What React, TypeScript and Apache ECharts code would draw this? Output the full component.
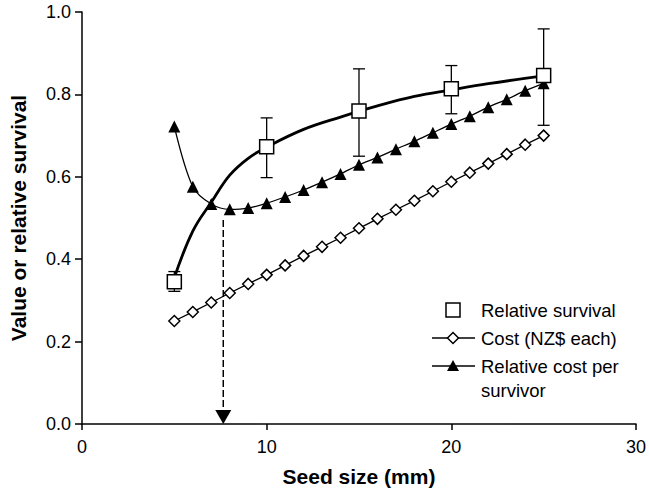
import React, { useEffect, useRef } from "react";
import * as echarts from "echarts";

// Seed sizes (mm) for cost series
const seedSizes = [5, 6, 7, 8, 9, 10, 11, 12, 13, 14, 15, 16, 17, 18, 19, 20, 21, 22, 23, 24, 25];
// Relative survival observations
const survivalX = [5, 10, 15, 20, 25];
const survivalY = [0.345, 0.673, 0.76, 0.814, 0.846];
const survivalLow = [0.322, 0.598, 0.65, 0.753, 0.725];
const survivalHigh = [0.37, 0.743, 0.862, 0.87, 0.959];
// Fitted survival curve
const fitX = [5, 6, 7, 8, 9, 10, 12, 14, 16, 18, 20, 22, 25];
const fitY = [0.355, 0.468, 0.538, 0.604, 0.645, 0.672, 0.715, 0.745, 0.772, 0.795, 0.811, 0.826, 0.845];
// Cost (NZ$ each)
const costY = [0.25, 0.272, 0.295, 0.318, 0.34, 0.362, 0.385, 0.408, 0.43, 0.452, 0.475, 0.498, 0.52, 0.542, 0.565, 0.588, 0.61, 0.632, 0.655, 0.678, 0.7];
// Relative cost per survivor
const costPerSurvivorY = [0.722, 0.576, 0.534, 0.521, 0.524, 0.536, 0.551, 0.568, 0.587, 0.607, 0.629, 0.647, 0.667, 0.686, 0.707, 0.728, 0.747, 0.769, 0.788, 0.809, 0.827];
// Optimum seed size marker
const optimumX = 7.65;
const optimumTop = 0.495;
const optimumBottom = 0.03;

const xTicks = [0, 10, 20, 30];
const yTicks = [0, 0.2, 0.4, 0.6, 0.8, 1.0];

const legendNames = ["Relative survival", "Cost (NZ$ each)", "Relative cost per", "survivor"];

const FONT = "'Liberation Sans', Arial, Helvetica, sans-serif";

export default function App() {
  const ref = useRef<HTMLDivElement>(null);
  useEffect(() => {
    if (!ref.current) return;
    const chart = echarts.init(ref.current, undefined, { renderer: "svg" });
    const black = "#000";
    const option: any = {
      animation: false,
      backgroundColor: "#fff",
      textStyle: { fontFamily: FONT },
      grid: { left: 80, right: 9, top: 12, bottom: 68 },
      xAxis: {
        type: "value",
        min: xTicks[0],
        max: xTicks[xTicks.length - 1],
        interval: 10,
        name: "Seed size (mm)",
        nameLocation: "middle",
        nameGap: 42,
        nameTextStyle: { fontFamily: FONT, fontSize: 21, fontWeight: "bold", color: black },
        axisLine: { lineStyle: { color: black, width: 1.5 } },
        axisTick: { show: true, length: 6, lineStyle: { color: black, width: 1.5 } },
        axisLabel: { fontFamily: FONT, fontSize: 18, color: black, margin: 14 },
        splitLine: { show: false },
      },
      yAxis: {
        type: "value",
        min: yTicks[0],
        max: yTicks[yTicks.length - 1],
        interval: 0.2,
        name: "Value or relative survival",
        nameLocation: "middle",
        nameGap: 53,
        nameTextStyle: { fontFamily: FONT, fontSize: 21, fontWeight: "bold", color: black },
        axisLine: { show: true, lineStyle: { color: black, width: 1.5 } },
        axisTick: { show: true, length: 7, lineStyle: { color: black, width: 1.5 } },
        axisLabel: { fontFamily: FONT, fontSize: 18, color: black, margin: 11, formatter: (v: number) => v.toFixed(1) },
        splitLine: { show: false },
      },
      series: [
        {
          type: "line",
          name: "fit",
          data: fitX.map((x, i) => [x, fitY[i]]),
          smooth: 0.4,
          showSymbol: false,
          symbol: "none",
          lineStyle: { color: black, width: 2.8 },
          z: 3,
        },
        {
          type: "line",
          name: "Cost (NZ$ each)",
          data: seedSizes.map((x, i) => [x, costY[i]]),
          symbol: "diamond",
          symbolSize: 11,
          itemStyle: { color: "#fff", borderColor: black, borderWidth: 1.5, opacity: 1 },
          lineStyle: { color: black, width: 1.3 },
          z: 2,
        },
        {
          type: "line",
          name: "Relative cost per survivor",
          data: seedSizes.map((x, i) => [x, costPerSurvivorY[i]]),
          smooth: 0.3,
          symbol: "triangle",
          symbolSize: 12,
          itemStyle: { color: black, opacity: 1 },
          lineStyle: { color: black, width: 1.3 },
          z: 4,
        },
        {
          type: "custom",
          name: "errors",
          data: survivalX.map((x, i) => [x, survivalLow[i], survivalHigh[i]]),
          renderItem: (params: any, api: any) => {
            const x = api.value(0);
            const lo = api.coord([x, api.value(1)]);
            const hi = api.coord([x, api.value(2)]);
            const hw = 6;
            const style = { stroke: black, lineWidth: 1.3 };
            return {
              type: "group",
              children: [
                { type: "line", shape: { x1: lo[0], y1: lo[1], x2: hi[0], y2: hi[1] }, style },
                { type: "line", shape: { x1: lo[0] - hw, y1: lo[1], x2: lo[0] + hw, y2: lo[1] }, style },
                { type: "line", shape: { x1: hi[0] - hw, y1: hi[1], x2: hi[0] + hw, y2: hi[1] }, style },
              ],
            };
          },
          z: 5,
        },
        {
          type: "scatter",
          name: "Relative survival",
          data: survivalX.map((x, i) => [x, survivalY[i]]),
          symbol: "rect",
          symbolSize: 14,
          itemStyle: { color: "#fff", borderColor: black, borderWidth: 1.5, opacity: 1 },
          z: 6,
        },
        {
          type: "line",
          name: "optimum",
          data: [
            [optimumX, optimumTop],
            [optimumX, optimumBottom],
          ],
          symbol: "none",
          lineStyle: { color: black, width: 1.5, type: [7, 3] },
          z: 2,
        },
        {
          type: "scatter",
          name: "arrow",
          data: [[optimumX, 0]],
          symbol: "triangle",
          symbolRotate: 180,
          symbolSize: [16, 14],
          symbolOffset: [0, -7],
          itemStyle: { color: black, opacity: 1 },
          z: 7,
        },
      ],
      graphic: [
        { type: "rect", shape: { x: 446, y: 303, width: 14, height: 14 }, style: { fill: "#fff", stroke: black, lineWidth: 1.5 } },
        { type: "line", shape: { x1: 432, y1: 338, x2: 475, y2: 338 }, style: { stroke: black, lineWidth: 1.3 } },
        { type: "polygon", shape: { points: [[453, 332.5], [458.5, 338], [453, 343.5], [447.5, 338]] }, style: { fill: "#fff", stroke: black, lineWidth: 1.5 } },
        { type: "line", shape: { x1: 432, y1: 366, x2: 475, y2: 366 }, style: { stroke: black, lineWidth: 1.3 } },
        { type: "polygon", shape: { points: [[453, 360], [459, 371], [447, 371]] }, style: { fill: black } },
        { type: "text", x: 481, y: 310, style: { text: legendNames[0], fontFamily: FONT, fontSize: 18.5, fill: black, textVerticalAlign: "middle" } },
        { type: "text", x: 481, y: 338, style: { text: legendNames[1], fontFamily: FONT, fontSize: 18.5, fill: black, textVerticalAlign: "middle" } },
        { type: "text", x: 481, y: 366, style: { text: legendNames[2], fontFamily: FONT, fontSize: 18.5, fill: black, textVerticalAlign: "middle" } },
        { type: "text", x: 481, y: 390, style: { text: legendNames[3], fontFamily: FONT, fontSize: 18.5, fill: black, textVerticalAlign: "middle" } },
      ],
    };
    chart.setOption(option);
    return () => chart.dispose();
  }, []);
  return <div ref={ref} style={{ position: "fixed", left: 0, top: 0, width: 649, height: 492 }} />;
}
